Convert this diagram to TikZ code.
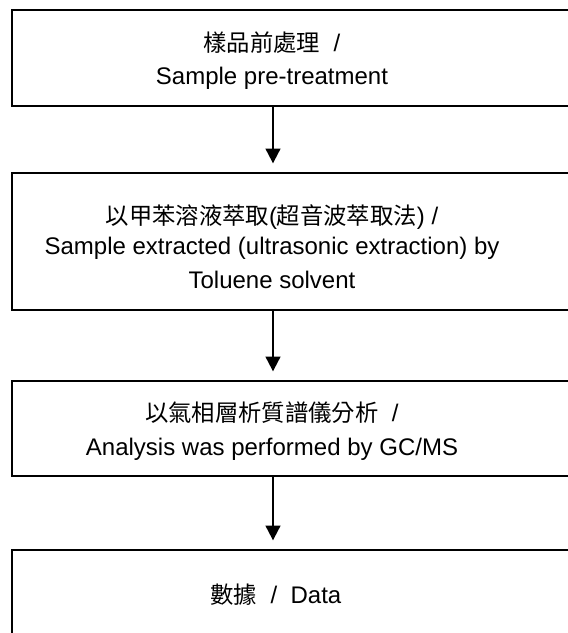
\documentclass[tikz,border=0pt]{standalone}
\usepackage{fontspec}
\setmainfont{Liberation Sans}
\newfontfamily\cjk{Noto Sans CJK TC}
\usetikzlibrary{arrows.meta}
\begin{document}
\begin{tikzpicture}[x=0.75pt,y=-0.75pt]
    \tikzstyle{stepbox}=[draw=black,line width=1.5pt,rectangle,minimum width=426pt]
    \tikzstyle{steptext}=[align=center,inner sep=0pt,font=\fontsize{18}{28}\selectfont]
    \tikzstyle{flow}=[line width=1.5pt,-{Triangle[width=11pt,length=11pt]},shorten >=6.5pt]
    \newcommand{\zh}[1]{{\cjk\fontsize{17.5}{28}\selectfont #1}}

    \clip (0,0) rectangle (568,633);
    \coordinate (ax) at (273,0);

    \node[stepbox,minimum height=72pt] at (296,58) (b1) {};
    \node[stepbox,minimum height=102.75pt] at (296,241.5) (b2) {};
    \node[stepbox,minimum height=71.25pt] at (296,428.5) (b3) {};
    \node[stepbox,minimum height=72pt] at (296,598) (b4) {};

    \node[steptext] at (272,60.5) (t1) {\zh{樣品前處理}~~/\\[-3pt]Sample pre-treatment};
    \node[steptext] at (272,247) (t2) {\zh{以甲苯溶液萃取}(\zh{超音波萃取法}) /\\[-6pt]Sample extracted (ultrasonic extraction) by\\[-2pt]Toluene solvent};
    \node[steptext] at (272,431) (t3) {\zh{以氣相層析質譜儀分析}~~/\\[-3pt]Analysis was performed by GC/MS};
    \node[steptext] at (276,595) (t4) {\zh{數據}~~/~~Data};

    \draw[flow] (b1.south -| ax) -- (b2.north -| ax);
    \draw[flow] (b2.south -| ax) -- (b3.north -| ax);
    \draw[flow] (b3.south -| ax) -- (b4.north -| ax);
\end{tikzpicture}
\end{document}
